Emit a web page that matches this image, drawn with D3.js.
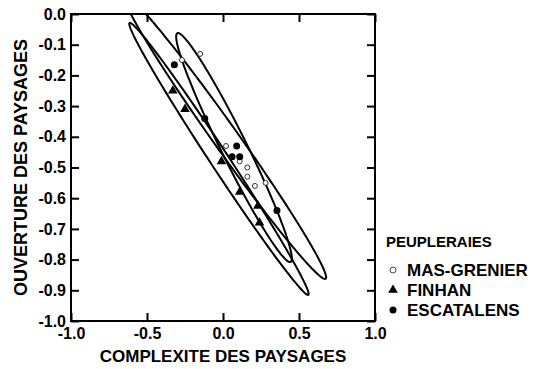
<!DOCTYPE html>
<html>
<head>
<meta charset="utf-8">
<script src="https://cdn.jsdelivr.net/npm/d3@7"></script>
<style>
  body { margin: 0; background: #fff; }
  text { font-family: "Liberation Sans", Arial, sans-serif; font-weight: bold; fill: #000; }
</style>
</head>
<body>
<div id="chart"></div>
<script>
// chart data
var xTicks = [-1.0, -0.5, 0.0, 0.5, 1.0];
var yTicks = [0.0, -0.1, -0.2, -0.3, -0.4, -0.5, -0.6, -0.7, -0.8, -0.9, -1.0];

var series = ["MAS-GRENIER", "FINHAN", "ESCATALENS"];

var masX = [-0.15, -0.27, 0.02, 0.11, 0.16, 0.16, 0.21, 0.28];
var masY = [-0.13, -0.15, -0.43, -0.48, -0.50, -0.53, -0.56, -0.55];
var finX = [-0.33, -0.25, -0.01, 0.11, 0.23, 0.24];
var finY = [-0.25, -0.31, -0.48, -0.58, -0.625, -0.68];
var escX = [-0.32, -0.12, 0.09, 0.06, 0.11, 0.355];
var escY = [-0.165, -0.34, -0.43, -0.465, -0.465, -0.64];

// ellipses: top tip, bottom tip, horizontal half width (data units)
var ellTopX = [-0.612, -0.645, -0.296];
var ellTopY = [-0.029, 0.062, -0.062];
var ellBotX = [0.559, 0.671, 0.441];
var ellBotY = [-0.915, -0.863, -0.808];
var ellHalfW = [0.072, 0.10, 0.095];

var width = 536,
    height = 369;

var x = d3.scaleLinear().domain([-1, 1]).range([71, 375]);
var y = d3.scaleLinear().domain([-1, 0]).range([321, 14]);

var svg = d3.select("#chart")
    .append("svg")
    .attr("width", width)
    .attr("height", height);

svg.append("clipPath").attr("id", "plotclip")
    .append("rect")
    .attr("x", x(-1)).attr("y", y(0))
    .attr("width", x(1) - x(-1)).attr("height", y(-1) - y(0));

// ellipses
var line = d3.line().curve(d3.curveLinearClosed);
var ellG = svg.append("g").attr("clip-path", "url(#plotclip)");
ellTopX.forEach(function(tx, i) {
    var cx = (tx + ellBotX[i]) / 2,
        cy = (ellTopY[i] + ellBotY[i]) / 2,
        ax = tx - cx,
        ay = ellTopY[i] - cy,
        bw = ellHalfW[i];
    var pts = d3.range(0, 200).map(function(k) {
        var t = k / 200 * 2 * Math.PI;
        return [x(cx + ax * Math.cos(t) + bw * Math.sin(t)),
                y(cy + ay * Math.cos(t))];
    });
    ellG.append("path")
        .attr("d", line(pts))
        .attr("fill", "none")
        .attr("stroke", "#000")
        .attr("stroke-width", 2);
});

// axes (ticks point inward)
var fmt = function(d) { return d.toFixed(1); };

var axL = svg.append("g")
    .attr("transform", "translate(" + x(-1) + ",0)")
    .call(d3.axisLeft(y).tickValues(yTicks).tickSize(-8).tickPadding(5).tickFormat(fmt));
var axR = svg.append("g")
    .attr("transform", "translate(" + x(1) + ",0)")
    .call(d3.axisRight(y).tickValues(yTicks).tickSize(-8).tickFormat(""));
var axB = svg.append("g")
    .attr("transform", "translate(0," + y(-1) + ")")
    .call(d3.axisBottom(x).tickValues(xTicks).tickSize(-8).tickPadding(7).tickFormat(fmt));
var axT = svg.append("g")
    .attr("transform", "translate(0," + y(0) + ")")
    .call(d3.axisTop(x).tickValues(xTicks).tickSize(-8).tickFormat(""));

[axL, axR, axB, axT].forEach(function(g) {
    g.select(".domain").remove();
    g.selectAll(".tick line").attr("stroke", "#000").attr("stroke-width", 2);
    g.selectAll(".tick text")
        .attr("fill", "#000")
        .style("font-family", "'Liberation Sans', Arial, sans-serif")
        .style("font-weight", "bold")
        .style("font-size", "16px");
});

svg.append("rect")
    .attr("x", x(-1)).attr("y", y(0))
    .attr("width", x(1) - x(-1)).attr("height", y(-1) - y(0))
    .attr("fill", "none")
    .attr("stroke", "#000")
    .attr("stroke-width", 2);

// points
var tri = d3.symbol().type(d3.symbolTriangle).size(40);
var pg = svg.append("g");
masX.forEach(function(v, i) {
    pg.append("circle")
        .attr("cx", x(v)).attr("cy", y(masY[i])).attr("r", 2.5)
        .attr("fill", "#fff").attr("stroke", "#333").attr("stroke-width", 1);
});
finX.forEach(function(v, i) {
    pg.append("path")
        .attr("d", tri)
        .attr("transform", "translate(" + x(v) + "," + y(finY[i]) + ")")
        .attr("fill", "#000");
});
escX.forEach(function(v, i) {
    pg.append("circle")
        .attr("cx", x(v)).attr("cy", y(escY[i])).attr("r", 3.5)
        .attr("fill", "#000");
});

// axis titles
svg.append("text")
    .attr("x", (x(-1) + x(1)) / 2)
    .attr("y", 362)
    .attr("text-anchor", "middle")
    .style("font-size", "17px")
    .text("COMPLEXITE DES PAYSAGES");

svg.append("text")
    .attr("transform", "translate(27," + (y(0) + y(-1)) / 2 + ") rotate(-90)")
    .attr("text-anchor", "middle")
    .style("font-size", "18px")
    .text("OUVERTURE DES PAYSAGES");

// legend
var lg = svg.append("g");
lg.append("text")
    .attr("x", 386).attr("y", 247)
    .style("font-size", "15px")
    .text("PEUPLERAIES");
series.forEach(function(s, i) {
    var ly = 276 + i * 20;
    if (i === 0) {
        lg.append("circle").attr("cx", 393).attr("cy", ly - 6).attr("r", 3)
            .attr("fill", "#fff").attr("stroke", "#444").attr("stroke-width", 1);
    } else if (i === 1) {
        lg.append("path").attr("d", tri)
            .attr("transform", "translate(393," + (ly - 6) + ")")
            .attr("fill", "#000");
    } else {
        lg.append("circle").attr("cx", 393).attr("cy", ly - 6).attr("r", 3.5)
            .attr("fill", "#000");
    }
    lg.append("text")
        .attr("x", 407).attr("y", ly)
        .style("font-size", "17px")
        .text(s);
});
</script>
</body>
</html>
